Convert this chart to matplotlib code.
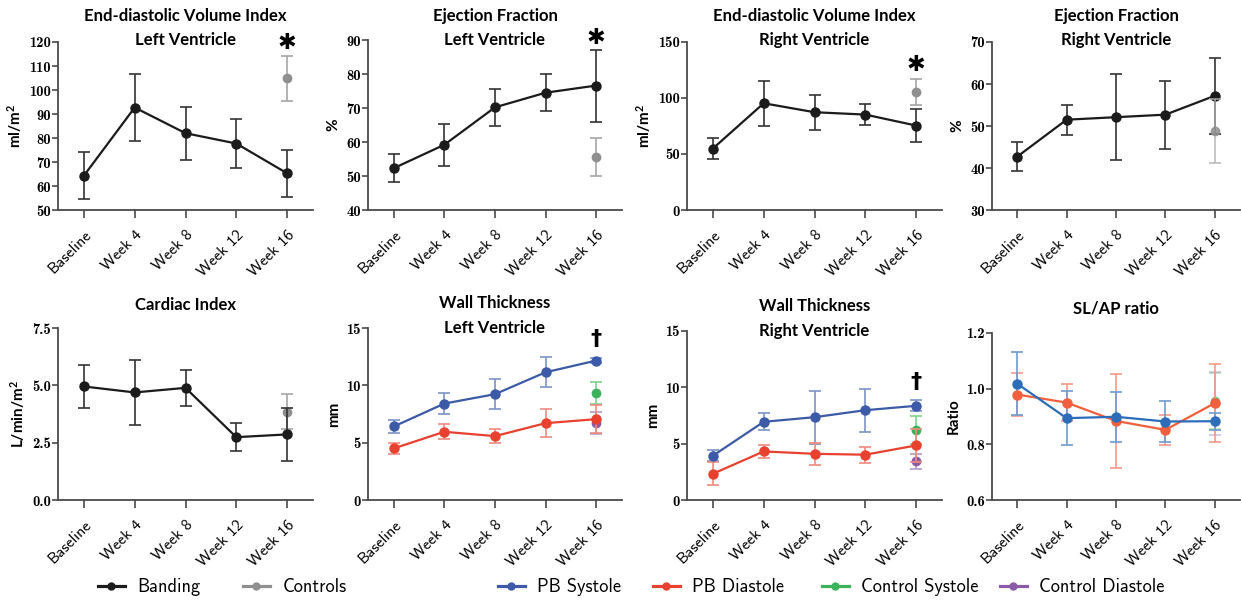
import os
import matplotlib
import matplotlib.pyplot as plt
import numpy as np
from matplotlib.lines import Line2D
from matplotlib.font_manager import FontProperties

plt.rcParams['mathtext.default'] = 'regular'

W, H = 1242, 602
weeks = ["Baseline", "Week 4", "Week 8", "Week 12", "Week 16"]

# top row
edvi_lv = [64.3, 92.7, 82.0, 77.7, 65.3]
edvi_lv_err = [9.7, 13.9, 11.0, 10.3, 9.7]
edvi_lv_ctrl, edvi_lv_ctrl_err = 104.9, 9.3

ef_lv = [52.3, 59.2, 70.2, 74.5, 76.6]
ef_lv_err = [4.1, 6.2, 5.5, 5.4, 10.6]
ef_lv_ctrl, ef_lv_ctrl_err = 55.6, 5.7

edvi_rv = [54.9, 95.3, 87.3, 85.2, 75.4]
edvi_rv_err = [9.0, 20.0, 15.5, 9.7, 14.4]
edvi_rv_ctrl, edvi_rv_ctrl_err = 105.4, 11.7

ef_rv = [42.7, 51.5, 52.1, 52.7, 57.2]
ef_rv_err = [3.5, 3.6, 10.2, 8.1, 9.0]
ef_rv_ctrl, ef_rv_ctrl_err = 48.9, 7.6

# bottom row
ci = [4.95, 4.69, 4.89, 2.74, 2.86]
ci_err = [0.95, 1.41, 0.80, 0.60, 1.16]
ci_ctrl, ci_ctrl_err = 3.85, 0.77

wt_lv_sys = [6.41, 8.41, 9.23, 11.14, 12.16]
wt_lv_sys_err = [0.55, 0.93, 1.30, 1.30, 0.20]
wt_lv_dia = [4.50, 5.95, 5.57, 6.70, 7.05]
wt_lv_dia_err = [0.50, 0.65, 0.60, 1.20, 1.20]
wt_lv_ctrl_sys, wt_lv_ctrl_sys_err = 9.31, 0.95
wt_lv_ctrl_dia, wt_lv_ctrl_dia_err = 6.70, 0.95

wt_rv_sys = [3.93, 6.94, 7.35, 7.97, 8.36]
wt_rv_sys_err = [0.50, 0.75, 2.35, 1.90, 0.50]
wt_rv_dia = [2.33, 4.31, 4.10, 4.02, 4.84]
wt_rv_dia_err = [1.00, 0.60, 1.00, 0.72, 1.50]
wt_rv_ctrl_sys, wt_rv_ctrl_sys_err = 6.20, 1.27
wt_rv_ctrl_dia, wt_rv_ctrl_dia_err = 3.42, 0.63

slap_sys = [1.018, 0.894, 0.899, 0.882, 0.883]
slap_sys_err = [0.113, 0.097, 0.090, 0.075, 0.030]
slap_dia = [0.979, 0.950, 0.884, 0.852, 0.948]
slap_dia_err = [0.076, 0.065, 0.170, 0.055, 0.140]
slap_ctrl_sys, slap_ctrl_sys_err = 0.955, 0.100
slap_ctrl_dia, slap_ctrl_dia_err = 0.948, 0.113

legend_labels = ["Banding", "Controls", "PB Systole", "PB Diastole",
                 "Control Systole", "Control Diastole"]

BLACK = '#1b1b1b'
GRAY = '#8f8f8f'
BLUE = '#3c5aa8'
RED = '#e8412f'
GREEN = '#3cb35a'
PURPLE = '#8a5ca8'
BLUE2 = '#2c6cb8'
ORANGE = '#f0603e'

# computer modern fonts shipped with matplotlib
ttf_dir = os.path.join(matplotlib.get_data_path(), 'fonts', 'ttf')
CMB = FontProperties(fname=os.path.join(ttf_dir, 'cmb10.ttf'), size=10.5)
CMSS_TICK = FontProperties(fname=os.path.join(ttf_dir, 'cmss10.ttf'), size=11.5)
CMSS_LEG = FontProperties(fname=os.path.join(ttf_dir, 'cmss10.ttf'), size=13.2)

TITLE_FONT = dict(family='Lato', weight='bold', size=12)
x = np.arange(len(weeks))

fig = plt.figure(figsize=(W / 100, H / 100), dpi=100)


def make_ax(x0, x1, ytop, ybot, ylim, yticks, ylabel, fmt=None):
    ax = fig.add_axes([x0 / W, 1 - ybot / H, (x1 - x0) / W, (ybot - ytop) / H])
    ax.set_xlim(-0.51, 4.51)
    ax.set_ylim(*ylim)
    ax.set_yticks(yticks)
    ax.set_yticklabels([fmt.format(v) if fmt else str(v) for v in yticks], fontproperties=CMB)
    ax.set_xticks(x)
    ax.set_xticklabels(weeks, rotation=45, ha='right', rotation_mode='anchor',
                       fontproperties=CMSS_TICK)
    ax.set_ylabel(ylabel, family='Lato', weight='bold', size=11, labelpad=4)
    for s in ['top', 'right']:
        ax.spines[s].set_visible(False)
    for s in ['left', 'bottom']:
        ax.spines[s].set_color('#4a4a4a')
        ax.spines[s].set_linewidth(1.3)
    ax.tick_params(axis='both', direction='out', color='#4a4a4a', width=1.2, pad=1)
    ax.tick_params(axis='y', length=4)
    ax.tick_params(axis='x', length=6, pad=7)
    return ax


def title(x0, x1, lines, ys):
    for t, y in zip(lines, ys):
        fig.text((x0 + x1) / 2 / W, 1 - y / H, t, ha='center', va='center', **TITLE_FONT)


def series(ax, y, err, color, ecolor):
    ax.errorbar(x, y, yerr=err, color=color, ecolor=ecolor, lw=1.6, elinewidth=1.2,
                capsize=4, capthick=1.2, marker='o', ms=6.5, clip_on=False, zorder=3)


def single(ax, y, err, color, ecolor, z=2, alpha=1.0):
    ax.errorbar([4], [y], yerr=[err], color=color, ecolor=ecolor, fmt='o', ms=6,
                elinewidth=1.2, capsize=4, capthick=1.2, clip_on=False, zorder=z, alpha=alpha)


def mark(ax, sym, ytop, off, size):
    ax.annotate(sym, (4, ytop), xytext=(0, off), textcoords='offset points',
                ha='center', va='center', fontsize=size, weight='bold',
                family='DejaVu Sans', annotation_clip=False)


cols = [(58, 313), (368, 622), (687, 942), (992, 1240)]

# top row
ax = make_ax(*cols[0], 42, 210, (50, 120), range(50, 121, 10), 'ml/m$^2$')
single(ax, edvi_lv_ctrl, edvi_lv_ctrl_err, GRAY, '#a5a5a5')
series(ax, edvi_lv, edvi_lv_err, BLACK, '#333333')
mark(ax, '✱', edvi_lv_ctrl + edvi_lv_ctrl_err, 9, 16)
title(*cols[0], ["End-diastolic Volume Index", "Left Ventricle"], [16, 40])

ax = make_ax(*cols[1], 40, 210, (40, 90), range(40, 91, 10), '%')
single(ax, ef_lv_ctrl, ef_lv_ctrl_err, GRAY, '#a5a5a5')
series(ax, ef_lv, ef_lv_err, BLACK, '#333333')
mark(ax, '✱', ef_lv[4] + ef_lv_err[4], 8, 16)
title(*cols[1], ["Ejection Fraction", "Left Ventricle"], [16, 40])

ax = make_ax(*cols[2], 42, 210, (0, 150), range(0, 151, 50), 'ml/m$^2$')
single(ax, edvi_rv_ctrl, edvi_rv_ctrl_err, GRAY, '#a5a5a5')
series(ax, edvi_rv, edvi_rv_err, BLACK, '#333333')
mark(ax, '✱', edvi_rv_ctrl + edvi_rv_ctrl_err, 10, 16)
title(*cols[2], ["End-diastolic Volume Index", "Right Ventricle"], [16, 40])

ax = make_ax(*cols[3], 42, 210, (30, 70), range(30, 71, 10), '%')
series(ax, ef_rv, ef_rv_err, BLACK, '#333333')
single(ax, ef_rv_ctrl, ef_rv_ctrl_err, GRAY, '#b0b0b0', z=4, alpha=0.85)
title(*cols[3], ["Ejection Fraction", "Right Ventricle"], [16, 40])

# bottom row
ax = make_ax(*cols[0], 328, 500, (0, 7.5), [0, 2.5, 5.0, 7.5], 'L/min/m$^2$', '{:.1f}')
single(ax, ci_ctrl, ci_ctrl_err, GRAY, '#a5a5a5')
series(ax, ci, ci_err, BLACK, '#333333')
title(*cols[0], ["Cardiac Index"], [305])

ax = make_ax(*cols[1], 328, 500, (0, 15), [0, 5, 10, 15], 'mm')
single(ax, wt_lv_ctrl_sys, wt_lv_ctrl_sys_err, GREEN, '#7fd08f')
single(ax, wt_lv_ctrl_dia, wt_lv_ctrl_dia_err, PURPLE, '#b49ac8')
series(ax, wt_lv_sys, wt_lv_sys_err, BLUE, '#7d94c8')
series(ax, wt_lv_dia, wt_lv_dia_err, RED, '#f08a7e')
mark(ax, '†', wt_lv_sys[4] + wt_lv_sys_err[4], 14, 16)
title(*cols[1], ["Wall Thickness", "Left Ventricle"], [303, 328])

ax = make_ax(*cols[2], 331, 500, (0, 15), [0, 5, 10, 15], 'mm')
single(ax, wt_rv_ctrl_sys, wt_rv_ctrl_sys_err, GREEN, '#7fd08f')
single(ax, wt_rv_ctrl_dia, wt_rv_ctrl_dia_err, PURPLE, '#b49ac8')
series(ax, wt_rv_sys, wt_rv_sys_err, BLUE, '#7d94c8')
series(ax, wt_rv_dia, wt_rv_dia_err, RED, '#f08a7e')
mark(ax, '†', wt_rv_sys[4] + wt_rv_sys_err[4], 13, 16)
title(*cols[2], ["Wall Thickness", "Right Ventricle"], [306, 331])

ax = make_ax(*cols[3], 333, 500, (0.6, 1.2), [0.6, 0.8, 1.0, 1.2], 'Ratio', '{:.1f}')
single(ax, slap_ctrl_sys, slap_ctrl_sys_err, GREEN, '#7fd08f', alpha=0.6)
single(ax, slap_ctrl_dia, slap_ctrl_dia_err, PURPLE, '#b49ac8', alpha=0.6)
series(ax, slap_dia, slap_dia_err, ORANGE, '#f59a86')
series(ax, slap_sys, slap_sys_err, BLUE2, '#6f9bd2')
title(*cols[3], ["SL/AP ratio"], [308])

# legend: one entry each, anchored at the left end of its handle
legend_colors = [BLACK, GRAY, BLUE, RED, GREEN, PURPLE]
legend_x = [98, 243, 498, 653, 822, 1000]
for lab, c, lx in zip(legend_labels, legend_colors, legend_x):
    h = Line2D([], [], color=c, marker='o', ms=5, lw=2.3)
    fig.legend([h], [lab], loc='center left', bbox_to_anchor=(lx / W, 1 - 587 / H),
               frameon=False, handlelength=1.45, handletextpad=0.7, prop=CMSS_LEG,
               borderaxespad=0, borderpad=0)

fig.savefig('out.png', dpi=100)
